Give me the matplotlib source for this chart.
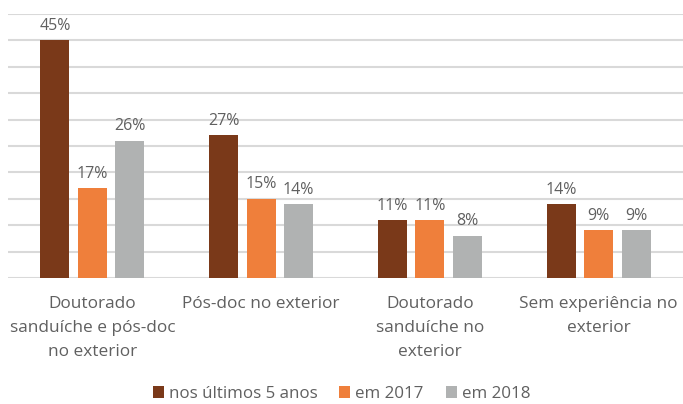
import numpy as np
import matplotlib.pyplot as plt

categorias = ['Doutorado\nsanduíche e pós-doc\nno exterior',
              'Pós-doc no exterior',
              'Doutorado\nsanduíche no\nexterior',
              'Sem experiência no\nexterior']
series = ['nos últimos 5 anos', 'em 2017', 'em 2018']
ultimos5 = [45, 27, 11, 14]
em2017 = [17, 15, 11, 9]
em2018 = [26, 14, 8, 9]
cores = ['#7a3919', '#ef7f3b', '#b0b2b2']

plt.rcParams['font.family'] = ['Open Sans', 'DejaVu Sans']
txt = '#606060'

fig = plt.figure(figsize=(6.83, 4.04), dpi=100)
ax = fig.add_axes([8/683, 1-278/404, 1-8/683, 264/404])

x = np.arange(len(categorias))
w = 0.172
passo = 0.222
for i, (vals, nome) in enumerate(zip([ultimos5, em2017, em2018], series)):
    bars = ax.bar(x + (i-1)*passo, vals, w, color=cores[i], label=nome, zorder=3)
    for b, v in zip(bars, vals):
        ax.text(b.get_x() + b.get_width()/2, v + 1.2, f'{v}%', ha='center', va='bottom',
                fontsize=11.5, color=txt)

ax.set_xlim(-0.5, 3.5)
ax.set_ylim(0, 50)
ax.set_yticks(np.arange(0, 51, 5))
ax.yaxis.grid(True, color='#d9d9d9', linewidth=1.5, zorder=0)
ax.set_yticklabels([])
ax.tick_params(left=False, bottom=False, length=0)
for s in ax.spines.values():
    s.set_visible(False)
ax.set_xticks(x)
ax.set_xticklabels(categorias, fontsize=12.4, color=txt, linespacing=1.68)
ax.tick_params(axis='x', pad=13)

leg = fig.legend(loc='lower center', bbox_to_anchor=(0.5, 0.0), ncol=3, frameon=False,
                 fontsize=12.2, handlelength=0.65, handleheight=0.7, handletextpad=0.3,
                 columnspacing=1.3, borderaxespad=-0.3)
for t in leg.get_texts():
    t.set_color(txt)

fig.savefig('out.png', dpi=100)
